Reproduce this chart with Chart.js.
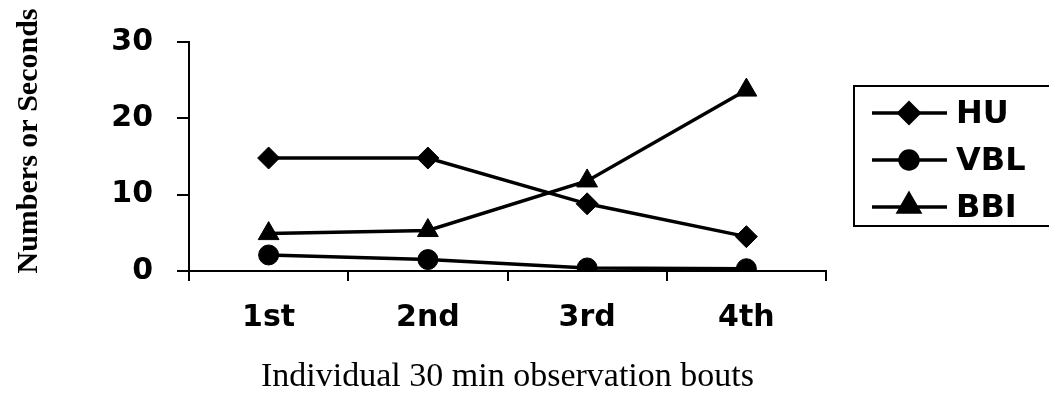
<!DOCTYPE html>
<html>
<head>
<meta charset="utf-8">
<script src="https://cdn.jsdelivr.net/npm/chart.js@4.4.1/dist/chart.umd.min.js"></script>
<style>
  html, body { margin: 0; padding: 0; background: #fff; }
  canvas { display: block; }
</style>
</head>
<body>
<canvas id="c" width="1049" height="398"></canvas>
<script>
const categories = ['1st', '2nd', '3rd', '4th'];
const huValues  = [14.8, 14.8, 8.8, 4.5];
const vblValues = [2.1, 1.5, 0.4, 0.3];
const bbiValues = [4.9, 5.3, 11.8, 23.7];
const seriesNames = ['HU', 'VBL', 'BBI'];
const yTicks = [0, 10, 20, 30];
const xTitle = 'Individual 30 min observation bouts';
const yTitle = 'Numbers or Seconds';

const tickFont = { family: '"DejaVu Sans", sans-serif', size: 30, weight: 'bold' };

const customDraw = {
  id: 'customDraw',
  afterDraw(chart) {
    const ctx = chart.ctx;
    ctx.save();
    ctx.fillStyle = '#000';
    ctx.strokeStyle = '#000';
    // y axis title
    ctx.save();
    ctx.translate(29, 141);
    ctx.rotate(-Math.PI / 2);
    ctx.font = 'bold 30px "Liberation Serif", serif';
    ctx.textAlign = 'center';
    ctx.textBaseline = 'middle';
    ctx.fillText(yTitle, 0, 0);
    ctx.restore();
    // legend box
    ctx.lineWidth = 2;
    ctx.strokeRect(854, 86, 300, 140);
    const legendRadius = [10, 9, 12];
    chart.data.datasets.forEach((ds, i) => {
      const y = 113 + i * 47;
      ctx.lineWidth = 3.5;
      ctx.beginPath();
      ctx.moveTo(872, y);
      ctx.lineTo(947, y);
      ctx.stroke();
      ctx.fillStyle = '#000';
      Chart.helpers.drawPoint(ctx, { pointStyle: ds.pointStyle, radius: legendRadius[i], rotation: 0, borderWidth: 1 }, 909, y + (ds.pointStyle === 'triangle' ? -1 : 0));
      ctx.font = 'bold 32px "DejaVu Sans", sans-serif';
      ctx.textAlign = 'left';
      ctx.textBaseline = 'middle';
      ctx.fillText(ds.label, 956, y + 2);
    });
    ctx.restore();
  }
};

const mk = (label, data, style, radius) => ({
  label, data,
  borderColor: '#000', backgroundColor: '#000',
  borderWidth: 3.5,
  pointStyle: style, pointRadius: radius, pointHoverRadius: radius,
  pointBackgroundColor: '#000', pointBorderColor: '#000', pointBorderWidth: 1,
  tension: 0, fill: false
});

new Chart(document.getElementById('c'), {
  type: 'line',
  data: {
    labels: categories,
    datasets: [
      mk(seriesNames[0], huValues, 'rectRot', 11),
      mk(seriesNames[1], vblValues, 'circle', 10),
      mk(seriesNames[2], bbiValues, 'triangle', 12)
    ]
  },
  options: {
    responsive: false,
    animation: false,
    devicePixelRatio: 1,
    layout: { padding: { left: 0, right: 223, top: 39, bottom: 0 } },
    plugins: { legend: { display: false }, tooltip: { enabled: false }, title: { display: false } },
    scales: {
      x: {
        type: 'category',
        offset: true,
        grid: { display: true, offset: true, drawOnChartArea: false, drawTicks: true, tickLength: 10, color: '#000', lineWidth: 2 },
        border: { display: true, color: '#000', width: 2 },
        ticks: { color: '#000', font: tickFont, padding: 19, maxRotation: 0 },
        title: { display: true, text: xTitle, color: '#000', font: { family: '"Liberation Serif", serif', size: 34, weight: 'normal' }, padding: { top: 0, bottom: 1 } },
        afterFit(scale) { scale.height = 127; }
      },
      y: {
        min: 0, max: 30,
        afterBuildTicks(scale) { scale.ticks = yTicks.map(v => ({ value: v })); },
        grid: { display: true, drawOnChartArea: false, drawTicks: true, tickLength: 12, color: '#000', lineWidth: 2 },
        border: { display: true, color: '#000', width: 2 },
        ticks: { color: '#000', font: tickFont, padding: 24 },
        afterFit(scale) { scale.width = 189; }
      }
    }
  },
  plugins: [customDraw]
});
</script>
</body>
</html>
